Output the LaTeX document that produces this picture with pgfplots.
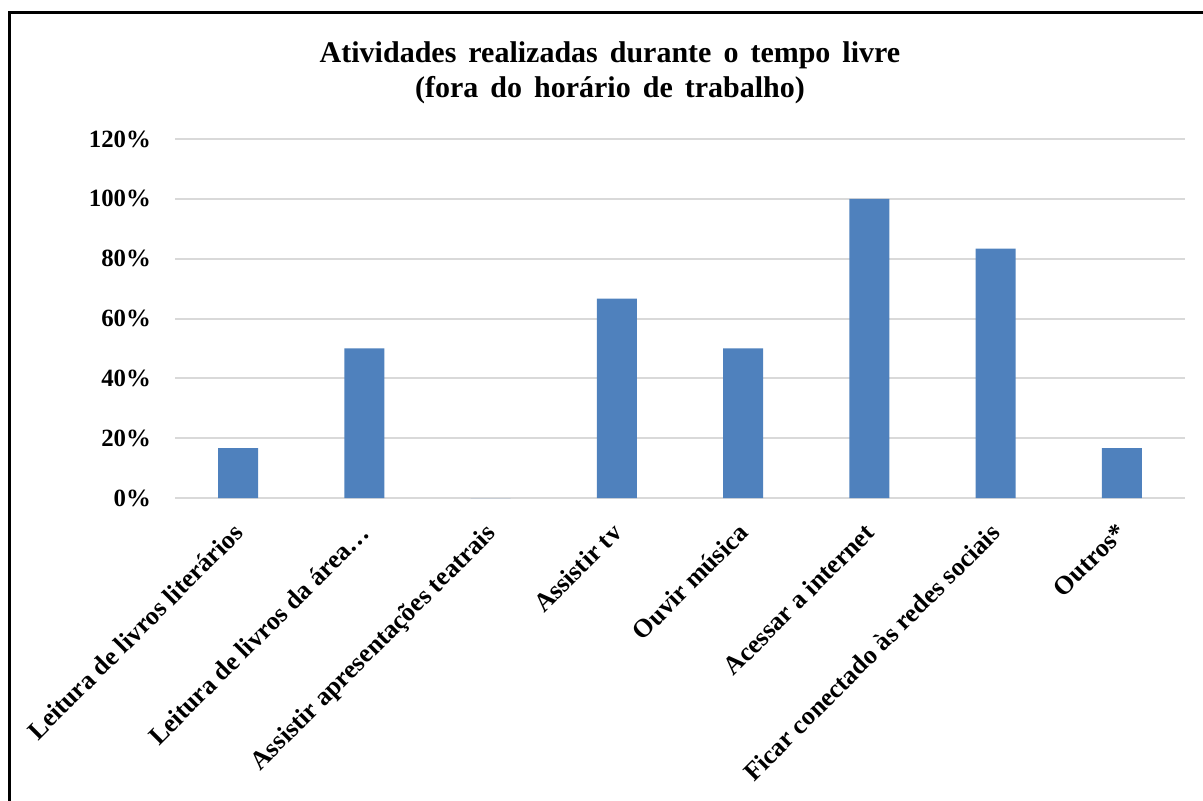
\documentclass[border=0pt]{standalone}
\usepackage{fontspec}
\setmainfont{Liberation Serif}
\newfontfamily\titlefont[WordSpace=1.6]{Liberation Serif}
\usepackage{pgfplots}
\pgfplotsset{compat=1.18}
\definecolor{barblue}{HTML}{4F81BD}
\definecolor{gridgray}{HTML}{D9D9D9}
\begin{document}
\begin{tikzpicture}
\useasboundingbox (0,0) rectangle (601.5pt,400pt);
\draw[line width=1.5pt] (4.5pt,-2pt) -- (4.5pt,393.5pt) -- (604pt,393.5pt);
\node[font=\titlefont\bfseries\fontsize{15}{17.5}\selectfont, align=center] at (305pt,363.5pt)
  {Atividades realizadas durante o tempo livre\\(fora do horário de trabalho)};
\begin{axis}[
  at={(87.5pt,151pt)}, anchor=south west,
  scale only axis, width=505pt, height=179.5pt,
  ymin=0, ymax=120, xmin=-0.5, xmax=7.5,
  ybar, bar width=20pt,
  axis x line*=bottom, axis y line*=left,
  y axis line style={draw=none},
  x axis line style={gridgray, line width=1pt},
  tick style={draw=none},
  ymajorgrids, grid style={gridgray, line width=1pt},
  xtick={0,1,2,3,4,5,6,7},
  xticklabels={Leitura de livros literários, Leitura de livros da área…, Assistir apresentações teatrais, Assistir tv, Ouvir música, Acessar a internet, Ficar conectado às redes sociais, Outros*},
  xticklabel style={rotate=45, anchor=north east, inner sep=0pt, xshift=-7.5pt, yshift=-3pt, font=\bfseries\fontsize{13}{15}\selectfont},
  ytick={0,20,40,60,80,100,120},
  yticklabels={0\%,20\%,40\%,60\%,80\%,100\%,120\%},
  yticklabel style={font=\bfseries\fontsize{12.4}{14}\selectfont, xshift=-8.5pt},
]
\addplot[fill=barblue, draw=none] coordinates {(0,16.67) (1,50) (2,0) (3,66.67) (4,50) (5,100) (6,83.33) (7,16.67)};
\end{axis}
\end{tikzpicture}
\end{document}
